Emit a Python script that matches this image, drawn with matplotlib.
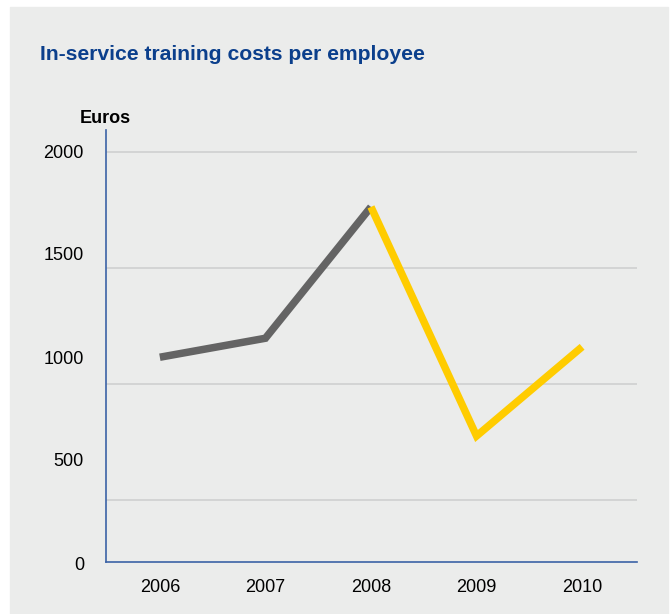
import matplotlib.pyplot as plt
from matplotlib.patches import Rectangle

plt.rcParams['font.family'] = ['Liberation Sans', 'DejaVu Sans']

# costs per employee (euros)
years = [2006, 2007, 2008, 2009, 2010]
costs = [1115, 1197, 1764, 775, 1160]
grid_levels = [500, 1000, 1500, 2000]
label_values = [0, 500, 1000, 1500, 2000]

BG = '#ebeceb'
AXIS_BLUE = '#3b63a6'
TITLE_BLUE = '#0b3f8c'
GREY = '#646464'
YELLOW = '#ffcc00'

fig = plt.figure(figsize=(6.71, 6.14), dpi=100)
fig.patch.set_facecolor('white')
fig.patches.append(Rectangle((10 / 671, 0), 658 / 671, 607 / 614,
                             transform=fig.transFigure, color=BG, zorder=-10))

ax = fig.add_axes([106 / 671, 52 / 614, 531 / 671, 432 / 614])
ax.set_facecolor('none')

# older years in grey, later years in yellow
ax.plot(years[:3], costs[:3], color=GREY, lw=5.4, solid_capstyle='butt',
        solid_joinstyle='miter', zorder=3)
ax.plot(years[2:], costs[2:], color=YELLOW, lw=5.4, solid_capstyle='butt',
        solid_joinstyle='miter', zorder=4)

ax.set_xlim(2005.49, 2010.52)
ax.set_ylim(231, 2096)

for g in grid_levels:
    ax.axhline(g, color='#cfd0d0', lw=1.2, zorder=1)

ax.set_xticks(years)
ax.set_xticklabels([str(y) for y in years], fontsize=13)
ax.tick_params(axis='x', length=0, pad=12)
ax.set_yticks([])

for side in ['top', 'right']:
    ax.spines[side].set_visible(False)
for side in ['left', 'bottom']:
    ax.spines[side].set_color(AXIS_BLUE)
    ax.spines[side].set_linewidth(1.2)

# value labels down the left side
bottom_frac = (562 - 565) / 432
top_frac = (562 - 153) / 432
for v in label_values:
    frac = bottom_frac + v / 2000 * (top_frac - bottom_frac)
    ax.text(-22 / 531, frac, str(v), transform=ax.transAxes, ha='right',
            va='center', fontsize=13)

ax.text(-26 / 531, (562 - 118) / 432, 'Euros', transform=ax.transAxes,
        ha='left', va='center', fontsize=13, fontweight='bold')

fig.text(40 / 671, 1 - 54 / 614, 'In-service training costs per employee',
         ha='left', va='center', fontsize=15.2, fontweight='bold', color=TITLE_BLUE)

fig.savefig('out.png', dpi=100)
